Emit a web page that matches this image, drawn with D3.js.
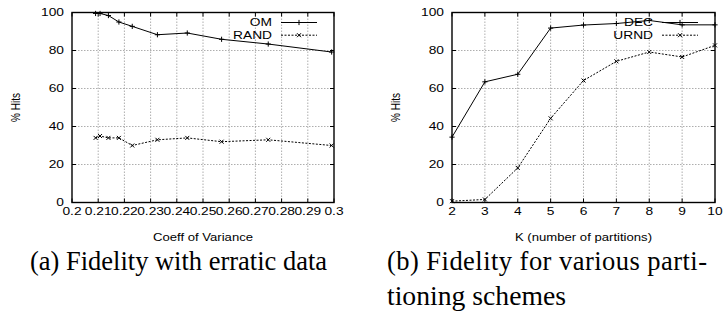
<!DOCTYPE html>
<html><head><meta charset="utf-8">
<script src="https://cdn.jsdelivr.net/npm/d3@7"></script>
<style>
html,body{margin:0;padding:0;background:#fff;}
svg{display:block;}
</style></head>
<body>
<svg id="chart" width="725" height="329"></svg>
<script>
// ---- Data ----
const cvValues = [0.209, 0.2107, 0.2139, 0.2179, 0.223, 0.2326, 0.244, 0.2571, 0.2749, 0.2991];
const omHits   = [99.5, 99.5, 98.4, 95.0, 92.7, 88.3, 89.2, 85.9, 83.4, 79.2];
const randHits = [34, 35, 34, 34, 30, 33, 34, 32, 33, 30];

const kValues  = [2, 3, 4, 5, 6, 7, 8, 9, 10];
const decHits  = [34.4, 63.5, 67.5, 91.8, 93.4, 94.2, 95.8, 93.5, 93.5];
const urndHits = [0.7, 1.6, 18.2, 44.3, 64.2, 74.3, 79.2, 76.6, 82.7];

const yTicks   = [0, 20, 40, 60, 80, 100];
const cvTicks  = [0.2, 0.21, 0.22, 0.23, 0.24, 0.25, 0.26, 0.27, 0.28, 0.29, 0.3];
const cvTickLabels = ["0.2","0.21","0.22","0.23","0.24","0.25","0.26","0.27","0.28","0.29","0.3"];
const kTicks   = [2, 3, 4, 5, 6, 7, 8, 9, 10];

const svg = d3.select("#chart");
const SANS = "'Liberation Sans', Arial, Helvetica, sans-serif";
const SERIF = "'Liberation Serif', 'Times New Roman', Times, serif";
const FS = 11, SX = 1.25;

function stext(g, x, y, str, anchor, fs) {
  return g.append("text")
    .attr("transform", `translate(${x},${y}) scale(${SX},1)`)
    .attr("text-anchor", anchor)
    .attr("dy", "0.36em")
    .style("font-family", SANS)
    .style("font-size", (fs || FS) + "px")
    .attr("fill", "#000")
    .text(str);
}

function marker(g, type, cx, cy) {
  if (type === "plus") {
    const s = 2.6;
    g.append("path").attr("d", `M${cx - s},${cy}H${cx + s}M${cx},${cy - s}V${cy + s}`)
      .attr("stroke", "#000").attr("stroke-width", 1);
  } else {
    const d = 2.0;
    g.append("path").attr("d", `M${cx - d},${cy - d}L${cx + d},${cy + d}M${cx - d},${cy + d}L${cx + d},${cy - d}`)
      .attr("stroke", "#000").attr("stroke-width", 1);
  }
}

function panel(opts) {
  const g = svg.append("g");
  const x = d3.scaleLinear().domain(opts.xDomain).range([opts.left, opts.right]);
  const y = d3.scaleLinear().domain([0, 100]).range([opts.bottom, opts.top]);

  // grid
  g.append("g").selectAll("line").data(opts.xTicks.slice(1, -1)).join("line")
    .attr("x1", d => x(d)).attr("x2", d => x(d)).attr("y1", opts.top).attr("y2", opts.bottom)
    .attr("stroke", "#999").attr("stroke-width", 0.8).attr("stroke-dasharray", "1.5,1.5");
  g.append("g").selectAll("line").data(yTicks.slice(1, -1)).join("line")
    .attr("y1", d => y(d)).attr("y2", d => y(d)).attr("x1", opts.left).attr("x2", opts.right)
    .attr("stroke", "#999").attr("stroke-width", 0.8).attr("stroke-dasharray", "1.5,1.5");

  // inward ticks on all four sides
  const tl = 4;
  g.append("g").selectAll("line").data(opts.xTicks).join("line")
    .attr("x1", d => x(d)).attr("x2", d => x(d)).attr("y1", opts.bottom).attr("y2", opts.bottom - tl)
    .attr("stroke", "#000");
  g.append("g").selectAll("line").data(opts.xTicks).join("line")
    .attr("x1", d => x(d)).attr("x2", d => x(d)).attr("y1", opts.top).attr("y2", opts.top + tl)
    .attr("stroke", "#000");
  g.append("g").selectAll("line").data(yTicks).join("line")
    .attr("y1", d => y(d)).attr("y2", d => y(d)).attr("x1", opts.left).attr("x2", opts.left + tl)
    .attr("stroke", "#000");
  g.append("g").selectAll("line").data(yTicks).join("line")
    .attr("y1", d => y(d)).attr("y2", d => y(d)).attr("x1", opts.right).attr("x2", opts.right - tl)
    .attr("stroke", "#000");

  // border
  g.append("rect").attr("x", opts.left).attr("y", opts.top)
    .attr("width", opts.right - opts.left).attr("height", opts.bottom - opts.top)
    .attr("fill", "none").attr("stroke", "#000").attr("stroke-width", 1.4);

  // tick labels
  yTicks.forEach(d => stext(g, opts.left - 8, y(d), String(d), "end"));
  opts.xTicks.forEach((d, i) => stext(g, x(d), opts.bottom + 9, opts.xLabels[i], "middle"));

  // axis titles
  stext(g, (opts.left + opts.right) / 2, opts.bottom + 35, opts.xTitle, "middle", 10.5);
  g.append("text")
    .attr("transform", `translate(${opts.yTitleX},${(opts.top + opts.bottom) / 2}) rotate(-90) scale(1,${SX})`)
    .attr("text-anchor", "middle").attr("dy", "0.36em")
    .style("font-family", SANS)
    .style("font-size", "10px").text("% Hits");

  // series
  opts.series.forEach((s, si) => {
    const line = d3.line().x((d, i) => x(s.xs[i])).y(d => y(d));
    g.append("path").datum(s.ys).attr("d", line).attr("fill", "none")
      .attr("stroke", "#000").attr("stroke-width", 1)
      .attr("stroke-dasharray", s.dash || null);
    s.ys.forEach((v, i) => marker(g, s.marker, x(s.xs[i]), y(v)));
    // legend
    const ly = opts.top + 10 + si * 12.7;
    stext(g, opts.legX, ly, s.name, "end");
    g.append("line").attr("x1", opts.legX + 9).attr("x2", opts.legX + 45)
      .attr("y1", ly).attr("y2", ly).attr("stroke", "#000").attr("stroke-width", 1)
      .attr("stroke-dasharray", s.dash || null);
    marker(g, s.marker, opts.legX + 27, ly);
  });
}

panel({
  left: 72, right: 334, top: 12.5, bottom: 202.5,
  xDomain: [0.2, 0.3], xTicks: cvTicks, xLabels: cvTickLabels,
  xTitle: "Coeff of Variance", yTitleX: 15, legX: 272,
  series: [
    { name: "OM", xs: cvValues, ys: omHits, marker: "plus" },
    { name: "RAND", xs: cvValues, ys: randHits, marker: "x", dash: "2,1.5" }
  ]
});

panel({
  left: 452, right: 715, top: 12.5, bottom: 202.5,
  xDomain: [2, 10], xTicks: kTicks, xLabels: kTicks.map(String),
  xTitle: "K (number of partitions)", yTitleX: 395, legX: 653,
  series: [
    { name: "DEC", xs: kValues, ys: decHits, marker: "plus" },
    { name: "URND", xs: kValues, ys: urndHits, marker: "x", dash: "2,1.5" }
  ]
});

// captions
const CFS = 26.5;
function caption(x, y, str, len, adj) {
  svg.append("text")
    .attr("x", x).attr("y", y)
    .style("font-family", SERIF).style("font-size", CFS + "px")
    .attr("fill", "#000")
    .attr("textLength", len).attr("lengthAdjust", adj)
    .text(str);
}
caption(30, 270, "(a) Fidelity with erratic data", 297, "spacingAndGlyphs");
caption(387, 270, "(b) Fidelity for various parti-", 320, "spacing");
caption(387, 305, "tioning schemes", 179, "spacingAndGlyphs");
</script>
</body></html>
